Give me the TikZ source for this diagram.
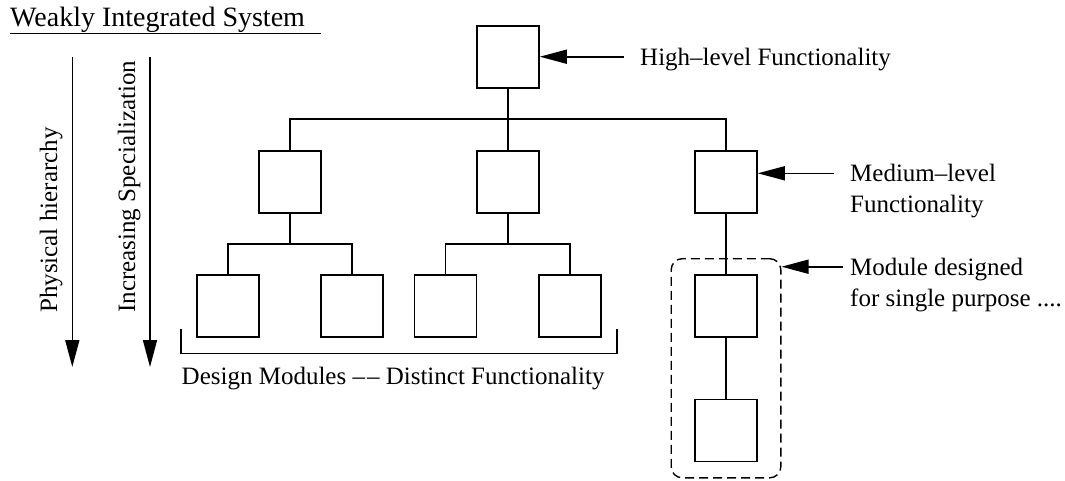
\documentclass[tikz,border=0pt]{standalone}
\usepackage{fontspec}
\setmainfont{Liberation Serif}
\usetikzlibrary{arrows.meta,fit}

\tikzset{
  unit/.style={draw, line width=1.6pt, minimum size=62pt, inner sep=0pt},
  wire/.style={line width=1.6pt},
  pointer/.style={line width=1.6pt, -{Triangle[length=27pt,width=14pt]}},
  label/.style={inner sep=0pt, font=\fontsize{25}{31}\selectfont},
  group/.style={draw, dashed, dash pattern=on 9pt off 5pt, line width=1.4pt,
                rounded corners=11pt, inner xsep=23pt, inner ysep=15.5pt},
}

\begin{document}
\begin{tikzpicture}[x=1pt, y=-1pt]
\useasboundingbox (0,0) rectangle (1065,480);

% title
\node[label, font=\fontsize{28}{33}\selectfont, anchor=base west] (title) at (10,26) {Weakly Integrated System};
\draw[wire] ([yshift=-7.3pt]title.base west) -- ++(311,0);

% direction arrows on the left
\coordinate (ph1) at (72.3,56.7);
\coordinate (ph2) at (72.3,367);
\coordinate (is1) at (150,56.7);
\coordinate (is2) at (150,367);
\draw[pointer] (ph1) -- (ph2);
\draw[pointer] (is1) -- (is2);
\node[label, rotate=90, anchor=base west] (phys) at (57,313) {Physical hierarchy};
\node[label, rotate=90, anchor=base west] (spec) at (135,313) {Increasing Specialization};

% hierarchy of units
\node[unit] (top) at (508,57) {};
\node[unit] (m1) at (290,181.7) {};
\node[unit] (m2) at (508,181.7) {};
\node[unit] (m3) at (726,181.7) {};
\node[unit] (b1) at (228,306) {};
\node[unit] (b2) at (352,306) {};
\node[unit] (b3) at (445.5,306) {};
\node[unit] (b4) at (570,306) {};
\node[unit] (r2) at (726,306) {};
\node[unit] (r3) at (726,430.5) {};

% tree connections
\coordinate (bus) at (508,119.2);
\coordinate (s1) at (290,244);
\coordinate (s2) at (508,244);
\draw[wire] (top.south) -- (bus);
\draw[wire] (m1.north) |- (bus -| m3.north) -- (m3.north);
\draw[wire] (bus) -- (m2.north);
\draw[wire] (m1.south) -- (s1);
\draw[wire] (b1.north) |- (s1 -| b2.north) -- (b2.north);
\draw[wire] (m2.south) -- (s2);
\draw[wire] (b3.north) |- (s2 -| b4.north) -- (b4.north);
\draw[wire] (m3.south) -- (r2.north);
\draw[wire] (r2.south) -- (r3.north);

% dashed group around the single-purpose chain
\node[group, fit=(r2)(r3)] (grp) {};

% bracket under the design modules
\coordinate (brl) at (181,329.3);
\coordinate (brr) at (616.7,329.3);
\draw[wire] (brl) |- (616.7,353.3) -- (brr);
\node[label, anchor=base west] (dm) at (181.5,384) {Design Modules –\kern2pt– Distinct Functionality};

% annotations with pointers
\coordinate (hl) at (624.3,56.7);
\draw[pointer] (hl) -- (hl -| top.east);
\node[label, anchor=base west] (hltext) at (640,65) {High–level Functionality};

\coordinate (ml) at (834.3,173.3);
\draw[pointer] (ml) -- (ml -| m3.east);
\node[label, anchor=base west] (mltext1) at (850,181.7) {Medium–level};
\node[label, anchor=base west] (mltext2) at (850,212.7) {Functionality};

\coordinate (mod) at (842.7,266.7);
\draw[pointer] (mod) -- (mod -| grp.east);
\node[label, anchor=base west] (modtext1) at (850,275) {Module designed};
\node[label, anchor=base west] (modtext2) at (850,306) {for single purpose ....};
\end{tikzpicture}
\end{document}
